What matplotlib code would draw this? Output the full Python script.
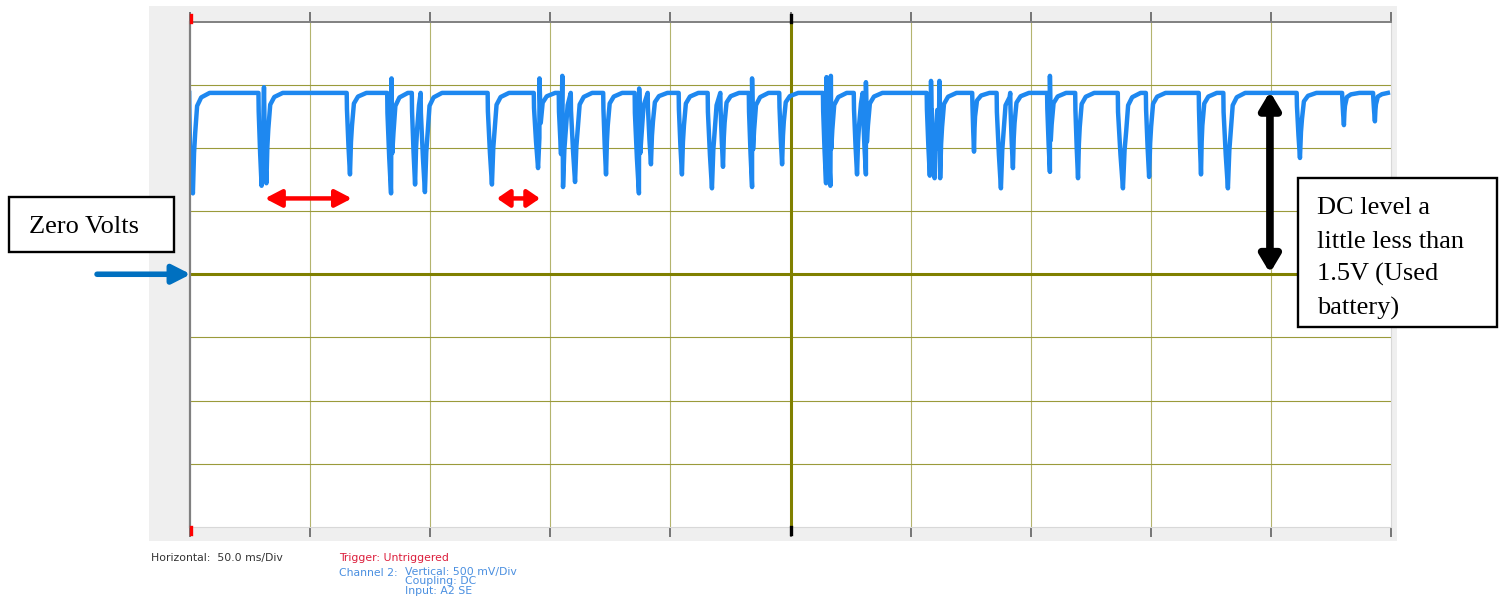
import matplotlib
matplotlib.use("Agg")
import matplotlib.pyplot as plt
from matplotlib.patches import Rectangle
import numpy as np

W, H = 1501, 599

# scope settings
ms_per_div = 50.0
v_per_div = 0.5
n_xdiv = 10
n_ydiv = 8
baseline = 1.435
t_end = 498.7

# dips: time of the bottom (ms), lowest voltage (V), width (ms)
dip_t = [1.2, 29.8, 31.8, 66.6, 83.7, 93.7, 97.8, 125.7, 144.9, 155.3,
         160.3, 173.2, 186.9, 191.9, 204.8, 217.3, 221.9, 234.0, 246.5, 264.8,
         266.6, 277.7, 281.4, 308.0, 310.0, 312.3, 326.4, 337.6, 342.6, 358.0,
         369.7, 388.4, 399.3, 420.9, 432.1, 462.1, 480.4, 493.3]
dip_v = [0.64, 0.70, 0.72, 0.79, 0.64, 0.71, 0.65, 0.71, 0.84, 0.69,
         0.73, 0.79, 0.64, 0.87, 0.79, 0.68, 0.85, 0.69, 0.87, 0.72,
         0.70, 0.79, 0.79, 0.78, 0.76, 0.76, 0.97, 0.68, 0.84, 0.81,
         0.76, 0.68, 0.77, 0.79, 0.68, 0.92, 1.18, 1.21]
dip_w = [2.4, 2.0, 2.0, 2.1, 2.5, 2.1, 2.8, 2.8, 2.8, 2.8,
         2.8, 1.8, 2.8, 2.1, 2.1, 2.8, 1.7, 2.1, 1.8, 2.0,
         2.0, 2.1, 2.1, 2.0, 2.0, 2.0, 1.1, 2.8, 1.7, 1.8,
         1.8, 3.4, 2.1, 1.4, 3.0, 2.1, 1.1, 1.1]

# short positive spikes (ms, V)
spike_t = [30.8, 83.9, 145.5, 155.0, 187.0, 234.0, 265.0, 266.8, 281.4, 308.5, 312.0, 358.0]
spike_v = [1.48, 1.55, 1.55, 1.57, 1.47, 1.55, 1.56, 1.57, 1.52, 1.53, 1.53, 1.57]

# build the trace vertices
pts = [(0.0, 1.0)]
prev_end = -10
for i, (tb, vm, w) in enumerate(zip(dip_t, dip_v, dip_w)):
    d = baseline - vm
    start = tb - 0.6 * w
    end = tb + 0.4 * w
    nxt = dip_t[i + 1] - 0.6 * dip_w[i + 1] if i + 1 < len(dip_t) else t_end
    if start - prev_end > 1.0:
        pts.append((start - 0.1, baseline))
    pts += [(start, baseline - 0.2 * d), (start + 0.3 * w, baseline - 0.65 * d), (tb, vm),
            (tb + 0.2 * w, vm + 0.4 * d), (end, baseline - 0.4 * d)]
    tail = [(end + 0.8, baseline - 0.13 * d),
            (end + 2.5, baseline - 0.045 * d),
            (end + 6.0, baseline)]
    pts += [p for p in tail if p[0] < nxt - 0.3]
    prev_end = end
pts.append((t_end, baseline))
pts += list(zip(spike_t, spike_v))
pts.sort(key=lambda p: p[0])
tr_t = np.array([p[0] for p in pts])
tr_v = np.array([p[1] for p in pts])

fig = plt.figure(figsize=(W / 100, H / 100), dpi=100)

# grey scope panel
bg = fig.add_axes([0, 0, 1, 1], zorder=0)
bg.set_xlim(0, W)
bg.set_ylim(H, 0)
bg.axis("off")
bg.add_patch(Rectangle((149, 6), 1248, 535, facecolor="#efefef", edgecolor="none"))

left, right, top, bottom = 190, 1391, 21.5, 527
ax = fig.add_axes([left / W, 1 - bottom / H, (right - left) / W, (bottom - top) / H], zorder=1)
ax.set_facecolor("white")
ax.set_xlim(0, ms_per_div * n_xdiv)
ax.set_ylim(-v_per_div * n_ydiv / 2, v_per_div * n_ydiv / 2)

xt = np.arange(0, ms_per_div * n_xdiv + 1, ms_per_div)
yt = np.arange(-2, 2.01, v_per_div)
for x in xt[1:-1]:
    ax.axvline(x, color="#b4b46e", lw=0.8, zorder=1)
for y in yt[1:-1]:
    ax.axhline(y, color="#9a9a3a", lw=0.8, zorder=1)
ax.axvline(250, color="#808000", lw=2.2, zorder=1.5)
ax.axhline(0, color="#808000", lw=2.2, zorder=1.5)

ax.plot(tr_t, tr_v, color="#1e88f0", lw=3.2, solid_joinstyle="round", zorder=3)

ax.set_xticks(xt)
ax.set_yticks([])
ax.tick_params(axis="x", direction="out", length=7, width=1.1, color="#555555",
               top=True, bottom=True, labelbottom=False, labeltop=False)
# coloured trigger / centre marks over the ticks
xtr = ax.get_xaxis_transform()
tick_len = 7 / (bottom - top)
for x, col in [(xt[0] + 0.6, "red"), (250, "black")]:
    ax.plot([x, x], [1, 1 + tick_len], color=col, lw=2.4, transform=xtr, clip_on=False, zorder=6)
    ax.plot([x, x], [0, -tick_len], color=col, lw=2.4, transform=xtr, clip_on=False, zorder=6)

ax.spines["left"].set_color("#808080")
ax.spines["left"].set_linewidth(1.6)
ax.spines["top"].set_color("#808080")
ax.spines["top"].set_linewidth(1.4)
ax.spines["right"].set_color("#d8d8d8")
ax.spines["bottom"].set_color("#d8d8d8")
for s in ax.spines.values():
    s.set_zorder(4)

# arrows
ax.annotate("", xy=(0.3, 0), xytext=(-38.7, 0), annotation_clip=False,
            arrowprops=dict(arrowstyle="-|>,head_length=0.55,head_width=0.28", color="#0070c0",
                            lw=4, shrinkA=0, shrinkB=0, mutation_scale=20), zorder=6)
for a, b, hl in [(31.2, 67.4, 0.5), (127.8, 145.7, 0.38)]:
    ax.annotate("", xy=(b, 0.60), xytext=(a, 0.60), annotation_clip=False,
                arrowprops=dict(arrowstyle=f"<|-|>,head_length={hl},head_width=0.26", color="red",
                                lw=3.2, shrinkA=0, shrinkB=0, mutation_scale=20), zorder=6)
ax.annotate("", xy=(449.6, 0.01), xytext=(449.6, baseline + 0.01), annotation_clip=False,
            arrowprops=dict(arrowstyle="<|-|>,head_length=0.5,head_width=0.3", color="black",
                            lw=5.5, shrinkA=0, shrinkB=0, mutation_scale=20), zorder=6)

# foreground: text boxes and footer
fg = fig.add_axes([0, 0, 1, 1], zorder=5)
fg.set_xlim(0, W)
fg.set_ylim(H, 0)
fg.axis("off")
fg.patch.set_alpha(0)

serif = ["Liberation Serif", "DejaVu Serif"]
fg.add_patch(Rectangle((9, 197), 165, 55, facecolor="white", edgecolor="black", lw=1.7))
fg.text(29, 233, "Zero Volts", family=serif, fontsize=19, va="baseline", ha="left")

fg.add_patch(Rectangle((1297.5, 178), 199, 149, facecolor="white", edgecolor="black", lw=1.7))
dc_lines = ["DC level a", "little less than", "1.5V (Used", "battery)"]
for k, s in enumerate(dc_lines):
    fg.text(1317, 214 + 33.5 * k, s, family=serif, fontsize=19, va="baseline", ha="left")

small = dict(family="DejaVu Sans", fontsize=7.8, va="center", ha="left")
fg.text(151, 558, "Horizontal:  50.0 ms/Div", color="#333333", **small)
fg.text(339, 558, "Trigger: Untriggered", color="#dc1e3c", **small)
fg.text(339, 572.5, "Channel 2:", color="#4a8fe0", **small)
fg.text(405, 572.5, "Vertical: 500 mV/Div", color="#4a8fe0", **small)
fg.text(405, 581.5, "Coupling: DC", color="#4a8fe0", **small)
fg.text(405, 590.5, "Input: A2 SE", color="#4a8fe0", **small)

fig.savefig("out.png", dpi=100)
